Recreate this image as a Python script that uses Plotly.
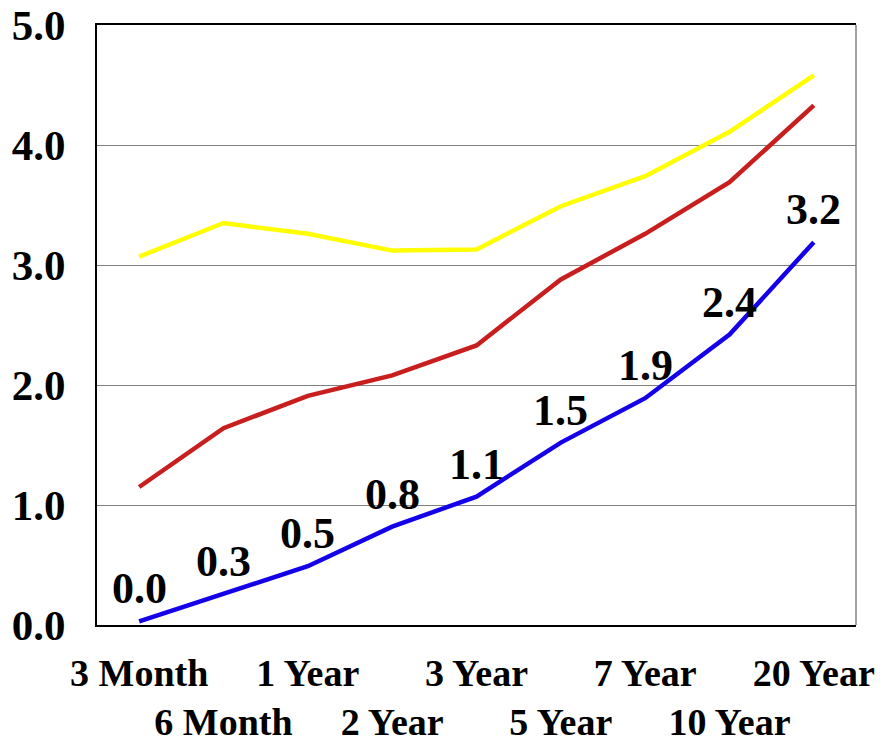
import plotly.graph_objects as go

categories = ["3 Month", "6 Month", "1 Year", "2 Year", "3 Year", "5 Year", "7 Year", "10 Year", "20 Year"]
yellow_vals = [3.07, 3.35, 3.26, 3.12, 3.13, 3.49, 3.74, 4.11, 4.58]
red_vals = [1.15, 1.64, 1.91, 2.08, 2.33, 2.88, 3.26, 3.69, 4.33]
blue_vals = [0.03, 0.26, 0.49, 0.82, 1.07, 1.52, 1.89, 2.42, 3.19]
blue_labels = ["0.0", "0.3", "0.5", "0.8", "1.1", "1.5", "1.9", "2.4", "3.2"]
y_ticks = [0, 1, 2, 3, 4, 5]
y_tick_labels = ["0.0", "1.0", "2.0", "3.0", "4.0", "5.0"]

FONT = "Liberation Serif"

fig = go.Figure()
fig.add_trace(go.Scatter(x=categories, y=yellow_vals, mode="lines",
                         line=dict(color="#FFFF00", width=4.5)))
fig.add_trace(go.Scatter(x=categories, y=red_vals, mode="lines",
                         line=dict(color="#C81E1E", width=4.5)))
fig.add_trace(go.Scatter(x=categories, y=blue_vals, mode="lines",
                         line=dict(color="#1400E8", width=4.5)))

for c, v, t in zip(categories, blue_vals, blue_labels):
    fig.add_annotation(x=c, y=v, text="<b>%s</b>" % t, showarrow=False,
                       xanchor="center", yanchor="bottom", yshift=6,
                       font=dict(family=FONT, size=44, color="black"))

tick_text = [c if i % 2 == 0 else "<br>" + c for i, c in enumerate(categories)]
tick_text = ["<b>%s</b>" % t for t in tick_text]

# right border: thin gray
fig.add_shape(type="line", xref="paper", yref="paper", x0=1, x1=1, y0=0, y1=1,
              line=dict(color="#808080", width=1.5))

fig.update_layout(
    width=888, height=746,
    margin=dict(l=97, r=32, t=25, b=121),
    paper_bgcolor="white", plot_bgcolor="white",
    showlegend=False,
    font=dict(family=FONT, size=38, color="black"),
)
fig.update_xaxes(
    type="category", tickmode="array", tickvals=categories, ticktext=tick_text,
    range=[-0.5, len(categories) - 0.5],
    showgrid=False, showline=True, linecolor="black", linewidth=2, mirror=True,
    ticks="", tickangle=0, ticklabelstandoff=13, automargin=False,
    ticklabeloverflow="allow",
    tickfont=dict(family=FONT, size=38, color="black"),
)
fig.update_yaxes(
    range=[0, 5], tickmode="array", tickvals=y_ticks,
    ticktext=["<b>%s</b>" % t for t in y_tick_labels],
    showgrid=True, gridcolor="#808080", gridwidth=1,
    showline=True, linecolor="black", linewidth=2, mirror=False,
    zeroline=False, ticks="", ticklabelstandoff=21, automargin=False,
    ticklabeloverflow="allow",
    tickfont=dict(family=FONT, size=43, color="black"),
)

fig.write_html("out.html", config={"displayModeBar": False},
               post_script="document.body.style.margin='0px';")
